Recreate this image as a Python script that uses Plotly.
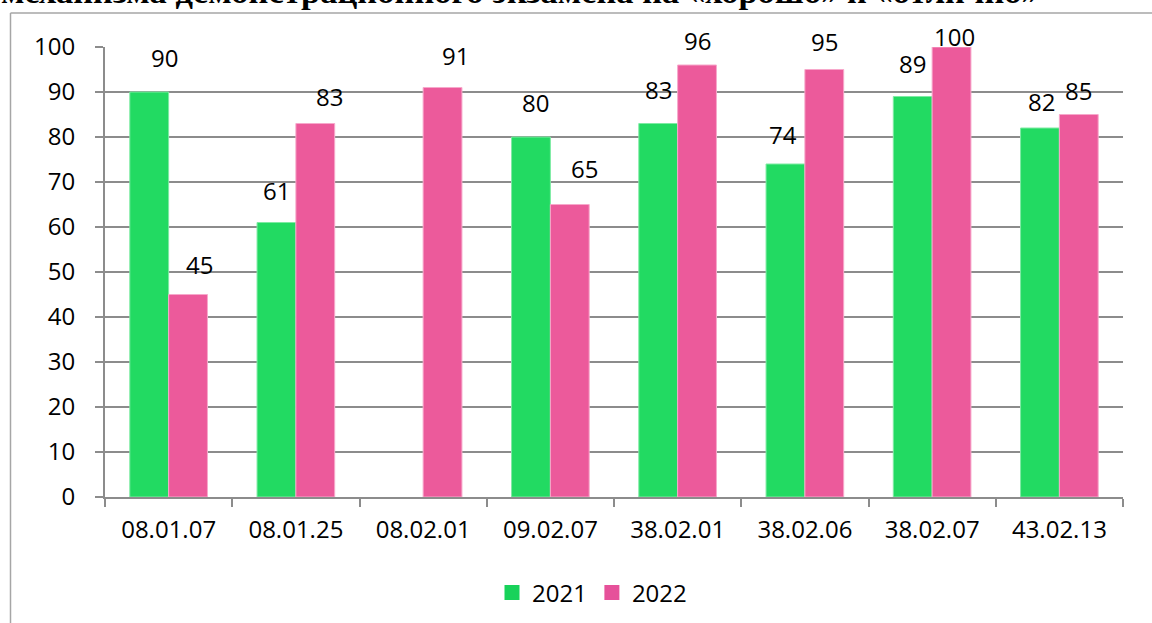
import plotly.graph_objects as go

categories = ["08.01.07", "08.01.25", "08.02.01", "09.02.07", "38.02.01", "38.02.06", "38.02.07", "43.02.13"]
values_2021 = [90, 61, None, 80, 83, 74, 89, 82]
values_2022 = [45, 83, 91, 65, 96, 95, 100, 85]
series_names = ["2021", "2022"]
title_text = "механизма демонстрационного экзамена на «хорошо» и «отлично»"

# label placement styling (pixels above bar top, horizontal nudge)
lab_up_2021 = [35, 32, 0, 35, 34, 30, 33, 27]
lab_dx_2021 = [15, 0, 0, 5, 0, -2, 0, 2]
lab_up_2022 = [30, 27, 32, 36, 25, 28, 11, 24]
lab_dx_2022 = [11, 14, 13, 15, 0, 0, 3, 0]

GREEN = "#22DA62"
PINK = "#EC5A9B"
FONT = "Open Sans"

fig = go.Figure()
fig.add_trace(go.Bar(x=categories, y=values_2021, name=series_names[0], showlegend=False,
                     marker=dict(color=GREEN, line=dict(color="#7EEBA3", width=1))))
fig.add_trace(go.Bar(x=categories, y=values_2022, name=series_names[1], showlegend=False,
                     marker=dict(color=PINK, line=dict(color="#F7A8CB", width=1))))
# legend entries with larger square swatches
for nm, col in zip(series_names, ["#18D25A", "#E6519A"]):
    fig.add_trace(go.Scatter(x=[None], y=[None], mode="markers", name=nm,
                             marker=dict(symbol="square", size=15, color=col)))

L, R, T, B = 105, 29, 47, 126
W, H = 1152, 623
plot_w = W - L - R
plot_h = H - T - B
bar_w = plot_w / len(categories) * (1 - 0.39) / 2

annotations = []
for vals, ups, dxs, sign in [(values_2021, lab_up_2021, lab_dx_2021, -1),
                             (values_2022, lab_up_2022, lab_dx_2022, 1)]:
    for c, v, u, d in zip(categories, vals, ups, dxs):
        if v is None:
            continue
        annotations.append(dict(x=c, y=v, xref="x", yref="y", text=str(v),
                                showarrow=False, xanchor="center", yanchor="middle",
                                xshift=sign * bar_w / 2 + d, yshift=u,
                                font=dict(family=FONT, size=24, color="#000000")))

annotations.append(dict(x=-(L + 1) / plot_w, y=1 + (T + 9) / plot_h, xref="paper", yref="paper",
                        text="<b>" + title_text + "</b>", showarrow=False,
                        xanchor="left", yanchor="middle",
                        font=dict(family="Liberation Serif", size=34.5, color="#000000")))

fig.update_layout(
    width=W, height=H,
    margin=dict(l=L, r=R, t=T, b=B, pad=0, autoexpand=False),
    paper_bgcolor="white", plot_bgcolor="white",
    barmode="group", bargap=0.39, bargroupgap=0,
    showlegend=True,
    legend=dict(orientation="h", x=(592 - L) / plot_w, xanchor="center",
                y=-(593 - (H - B)) / plot_h, yanchor="middle",
                font=dict(family=FONT, size=24, color="#000000"),
                itemwidth=30, traceorder="normal"),
    annotations=annotations,
    shapes=[
        dict(type="line", xref="paper", yref="paper", layer="above",
             x0=-(L - 10.5) / plot_w, x1=1.2, y0=1 + (T - 13) / plot_h, y1=1 + (T - 13) / plot_h,
             line=dict(color="#A6A6A6", width=1.5)),
        dict(type="line", xref="paper", yref="paper", layer="above",
             x0=-(L - 10.5) / plot_w, x1=-(L - 10.5) / plot_w, y0=-0.5, y1=1 + (T - 13) / plot_h,
             line=dict(color="#A6A6A6", width=1.5)),
    ],
)

fig.update_xaxes(
    type="category", showgrid=False, showline=True, linecolor="#8C8C8C", linewidth=2,
    ticks="outside", tickson="boundaries", ticklen=8, tickwidth=2, tickcolor="#8C8C8C",
    tickfont=dict(family=FONT, size=24, color="#000000"), ticklabelstandoff=10,
    automargin=False,
)
fig.update_yaxes(
    range=[0, 100], dtick=10, showgrid=True, gridcolor="#8C8C8C", gridwidth=2,
    showline=True, linecolor="#8C8C8C", linewidth=2, zeroline=False,
    ticks="outside", ticklen=8, tickwidth=2, tickcolor="#8C8C8C",
    tickfont=dict(family=FONT, size=24, color="#000000"), ticklabelstandoff=15,
    automargin=False,
)

fig.write_html("out.html", config={"displayModeBar": False},
               post_script="document.body.style.margin='0px';document.body.style.overflow='hidden';")
